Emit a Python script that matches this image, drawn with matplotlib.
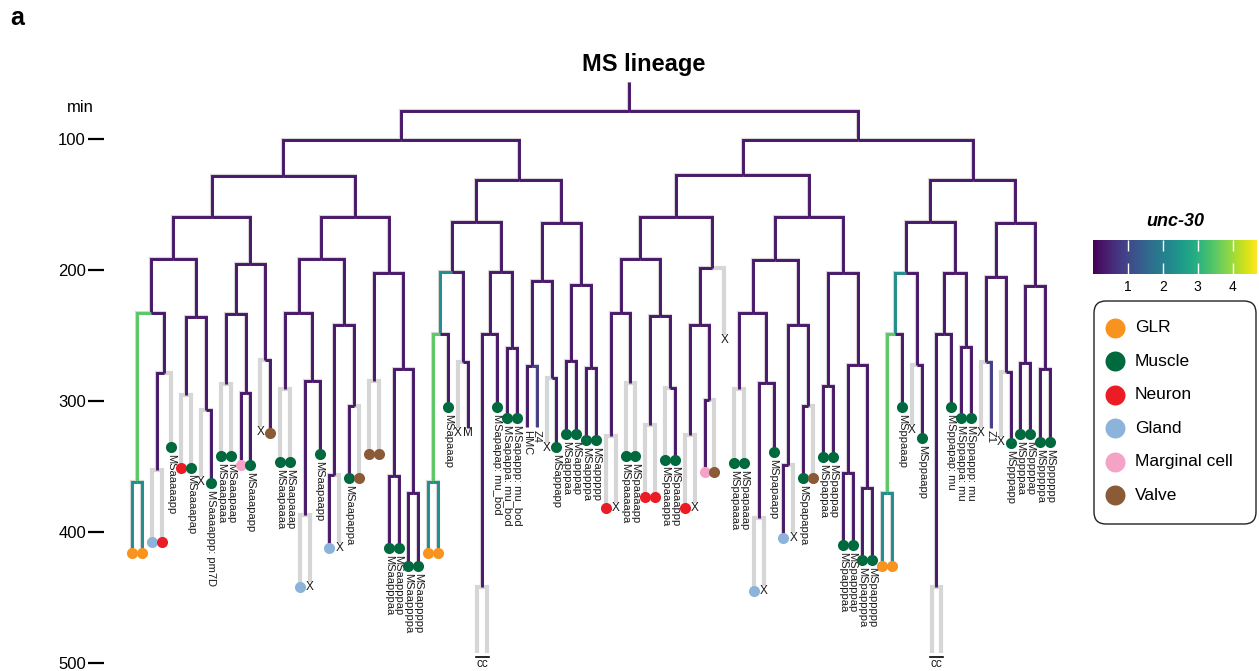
import numpy as np
import matplotlib.pyplot as plt
from matplotlib.colors import Normalize
from matplotlib.cm import ScalarMappable
from matplotlib.patches import FancyBboxPatch

plt.rcParams['font.family'] = ['Liberation Sans', 'DejaVu Sans']

# ---- lineage data: division times (min) and unc-30 level of each dividing cell ----
ms_birth = 56.5

div_cell = [
    'MS', 'MSa', 'MSaa', 'MSaaa', 'MSaaaa', 'MSaaaaa', 'MSaaaaaa', 'MSaaaaap', 'MSaaaaapa',
    'MSaaaap', 'MSaaaapa', 'MSaaaapp', 'MSaaap', 'MSaaapa', 'MSaaapaa', 'MSaaapap', 'MSaaapp',
    'MSaap', 'MSaapa', 'MSaapaa', 'MSaapaaa', 'MSaapaap', 'MSaapaapa', 'MSaapap', 'MSaapapa',
    'MSaapapp', 'MSaapp', 'MSaappa', 'MSaappp', 'MSaapppa', 'MSaapppp',
    'MSap', 'MSapa', 'MSapaa', 'MSapaaa', 'MSapaaaa', 'MSapaap', 'MSapap', 'MSapapa', 'MSapapaa',
    'MSapapp', 'MSapp', 'MSappa', 'MSappaa', 'MSappap', 'MSappp', 'MSapppa', 'MSapppp',
    'MSp', 'MSpa', 'MSpaa', 'MSpaaa', 'MSpaaaa', 'MSpaaaaa', 'MSpaaaap', 'MSpaaap', 'MSpaaapa',
    'MSpaaapp', 'MSpaap', 'MSpaapa', 'MSpaapaa', 'MSpaapap', 'MSpap', 'MSpapa', 'MSpapaa',
    'MSpapaaa', 'MSpapaap', 'MSpapaapa', 'MSpapap', 'MSpapapa', 'MSpapapp', 'MSpapp', 'MSpappa',
    'MSpappp', 'MSpapppa', 'MSpapppp',
    'MSpp', 'MSppa', 'MSppaa', 'MSppaaa', 'MSppaaaa', 'MSppaap', 'MSppap', 'MSppapa', 'MSppapaa',
    'MSppapp', 'MSppp', 'MSpppa', 'MSpppaa', 'MSpppap', 'MSpppp', 'MSppppa', 'MSppppp',
]
div_time = [
    78.6, 100.8, 128.2, 159.5, 191.6, 232.8, 361.8, 278.6, 352.7,
    235.9, 295.4, 306.9, 195.4, 233.6, 287.0, 293.9, 268.7,
    159.5, 191.6, 232.8, 290.8, 284.7, 387.0, 242.0, 356.5,
    303.8, 202.3, 284.7, 275.6, 357.3, 370.2,
    131.3, 163.4, 201.5, 248.9, 361.8, 270.2, 201.5, 248.9, 442.0,
    259.5, 164.1, 208.4, 273.3, 282.4, 211.5, 269.5, 274.8,
    100.8, 127.5, 159.5, 191.6, 232.8, 326.7, 286.3, 235.1, 318.3,
    290.1, 198.5, 242.0, 326.0, 299.2, 159.5, 192.4, 232.8,
    290.8, 286.3, 389.3, 242.0, 348.9, 303.8, 202.3, 288.6,
    272.5, 355.0, 366.4,
    131.3, 163.4, 202.3, 248.9, 370.2, 272.5, 202.3, 248.9, 442.0,
    258.8, 164.1, 205.3, 270.2, 277.9, 212.2, 271.0, 275.6,
]
div_unc30 = [
    0.3, 0.3, 0.3, 0.3, 0.3, 0.3, 3.5, 0.3, 0.3,
    0.3, 0.3, 0.3, 0.3, 0.3, 0.3, 0.3, 0.3,
    0.3, 0.3, 0.3, 0.3, 0.3, 0.3, 0.3, 0.3,
    0.3, 0.3, 0.3, 0.3, 0.3, 0.3,
    0.3, 0.3, 0.3, 2.3, 3.5, 0.3, 0.3, 0.3, 0.3,
    0.3, 0.3, 0.3, 0.3, 0.3, 0.3, 0.3, 0.3,
    0.3, 0.3, 0.3, 0.3, 0.3, 0.3, 0.3, 0.3, 0.3,
    0.3, 0.3, 0.3, 0.3, 0.3, 0.3, 0.3, 0.3,
    0.3, 0.3, 0.3, 0.3, 0.3, 0.3, 0.3, 0.3,
    0.3, 0.3, 0.3,
    0.3, 0.3, 0.3, 2.3, 3.5, 0.3, 0.3, 0.3, 0.3,
    0.3, 0.3, 0.3, 0.3, 0.3, 0.3, 0.3, 0.3,
]

# ---- terminal cells: end time (min), unc-30 level (None = no signal), fate ----
leaf_cell = [
    'MSaaaaaaa', 'MSaaaaaap', 'MSaaaaapaa', 'MSaaaaapap', 'MSaaaaapp', 'MSaaaapaa', 'MSaaaapap',
    'MSaaaappa', 'MSaaaappp', 'MSaaapaaa', 'MSaaapaap', 'MSaaapapa', 'MSaaapapp', 'MSaaappa',
    'MSaaappp', 'MSaapaaaa', 'MSaapaaap', 'MSaapaapaa', 'MSaapaapap', 'MSaapaapp', 'MSaapapaa',
    'MSaapapap', 'MSaapappa', 'MSaapappp', 'MSaappaa', 'MSaappap', 'MSaapppaa', 'MSaapppap',
    'MSaappppa', 'MSaappppp',
    'MSapaaaaa', 'MSapaaaap', 'MSapaaap', 'MSapaapa', 'MSapaapp', 'MSapapaaa', 'MSapapaap',
    'MSapapap', 'MSapappa', 'MSapappp', 'MSappaaa', 'MSappaap', 'MSappapa', 'MSappapp',
    'MSapppaa', 'MSapppap', 'MSappppa', 'MSappppp',
    'MSpaaaaaa', 'MSpaaaaap', 'MSpaaaapa', 'MSpaaaapp', 'MSpaaapaa', 'MSpaaapap', 'MSpaaappa',
    'MSpaaappp', 'MSpaapaaa', 'MSpaapaap', 'MSpaapapa', 'MSpaapapp', 'MSpaapp', 'MSpapaaaa',
    'MSpapaaap', 'MSpapaapaa', 'MSpapaapap', 'MSpapaapp', 'MSpapapaa', 'MSpapapap', 'MSpapappa',
    'MSpapappp', 'MSpappaa', 'MSpappap', 'MSpapppaa', 'MSpapppap', 'MSpappppa', 'MSpappppp',
    'MSppaaaaa', 'MSppaaaap', 'MSppaaap', 'MSppaapa', 'MSppaapp', 'MSppapaaa', 'MSppapaap',
    'MSppapap', 'MSppappa', 'MSppappp', 'MSpppaaa', 'MSpppaap', 'MSpppapa', 'MSpppapp',
    'MSppppaa', 'MSppppap', 'MSpppppa', 'MSpppppp',
]
leaf_end = [
    416.0, 416.0, 407.6, 407.6, 335.1, 351.1, 351.1,
    357.8, 362.6, 342.0, 342.0, 348.9, 348.9, 319.7,
    324.4, 346.6, 346.6, 442.0, 438.0, 340.5, 412.2,
    408.2, 358.8, 358.8, 340.5, 340.5, 412.2, 412.2,
    426.0, 426.0,
    416.0, 416.0, 304.6, 320.4, 320.4, 492.4, 492.4,
    304.6, 313.0, 313.0, 319.9, 319.9, 331.9, 335.1,
    325.2, 325.2, 329.8, 329.8,
    381.7, 377.7, 342.0, 342.0, 373.3, 373.3, 345.0,
    345.0, 381.7, 377.7, 354.2, 354.2, 249.4, 347.3,
    347.3, 445.0, 441.0, 338.9, 404.6, 400.6, 358.8,
    358.8, 342.8, 342.8, 409.9, 409.9, 421.4, 421.4,
    426.0, 426.0, 304.6, 318.1, 328.3, 492.4, 492.4,
    304.6, 313.0, 313.0, 320.4, 320.4, 327.3, 332.1,
    325.2, 325.2, 331.3, 331.3,
]
leaf_unc30 = [
    2.3, 2.3, None, None, None, None, None,
    None, 0.3, None, None, 0.3, 0.3, None,
    0.3, None, None, None, None, 0.3, 0.3,
    None, 0.3, None, None, None, 0.3, 0.3,
    0.3, 0.3,
    2.3, 2.3, 0.3, None, 0.3, None, None,
    0.3, 0.3, 0.3, 0.3, 0.85, None, 0.3,
    0.3, 0.3, 0.3, 0.3,
    None, None, None, None, None, None, None,
    0.3, None, None, 0.3, None, None, None,
    None, None, None, 0.3, 0.3, None, 0.3,
    None, 0.3, 0.3, 0.3, 0.3, 0.3, 0.3,
    2.3, 2.3, 0.3, None, 0.3, None, None,
    0.3, 0.3, 0.3, None, 0.85, None, 0.3,
    0.3, 0.3, 0.3, 0.3,
]
leaf_fate = [
    'GLR', 'GLR', 'Gland', 'Neuron', 'Muscle', 'Neuron', 'Muscle',
    'X', 'Muscle', 'Muscle', 'Muscle', 'Marginal cell', 'Muscle', 'X',
    'Valve', 'Muscle', 'Muscle', 'Gland', 'X', 'Muscle', 'Gland',
    'X', 'Muscle', 'Valve', 'Valve', 'Valve', 'Muscle', 'Muscle',
    'Muscle', 'Muscle',
    'GLR', 'GLR', 'Muscle', 'X', '', '', '',
    'Muscle', 'Muscle', 'Muscle', '', '', 'X', 'Muscle',
    'Muscle', 'Muscle', 'Muscle', 'Muscle',
    'Neuron', 'X', 'Muscle', 'Muscle', 'Neuron', 'Neuron', 'Muscle',
    'Muscle', 'Neuron', 'X', 'Marginal cell', 'Valve', 'X', 'Muscle',
    'Muscle', 'Gland', 'X', 'Muscle', 'Gland', 'X', 'Muscle',
    'Valve', 'Muscle', 'Muscle', 'Muscle', 'Muscle', 'Muscle', 'Muscle',
    'GLR', 'GLR', 'Muscle', 'X', 'Muscle', '', '',
    'Muscle', 'Muscle', 'Muscle', 'X', '', 'X', 'Muscle',
    'Muscle', 'Muscle', 'Muscle', 'Muscle',
]
tip_suffix = {'MSaaaappp': ': pm7D', 'MSapapap': ': mu_bod', 'MSapappa': ': mu_bod',
              'MSapappp': ': mu_bod', 'MSppapap': ': mu', 'MSppappa': ': mu', 'MSppappp': ': mu'}
tip_name = {'MSapaapp': 'M', 'MSappaaa': 'HMC', 'MSappaap': 'Z4', 'MSpppaap': 'Z1'}
cc_parents = ['MSapapaa', 'MSppapaa']

fates = ['GLR', 'Muscle', 'Neuron', 'Gland', 'Marginal cell', 'Valve']
fate_colors = ['#f7931e', '#00693e', '#ec1c24', '#8cb4da', '#f4a3c7', '#8b5b37']

time_ticks = [100, 200, 300, 400, 500]

# ---- build tree ----
end = dict(zip(div_cell, div_time))
end.update(zip(leaf_cell, leaf_end))
level = dict(zip(div_cell, div_unc30))
level.update(zip(leaf_cell, leaf_unc30))

xpos = {c: i for i, c in enumerate(leaf_cell)}


def place(c):
    if c not in xpos:
        xpos[c] = (place(c + 'a') + place(c + 'p')) / 2
    return xpos[c]


place('MS')

norm = Normalize(0, 4.7)
cmap = plt.get_cmap('viridis')
gray = '#d6d6d6'
ink = '#1a1a1a'

W, H = 1259, 671
fig = plt.figure(figsize=(W / 100, H / 100), dpi=100)
ax = fig.add_axes([104 / W, 0, 1 - 104 / W, 1])
step = 9.871
ax.set_xlim((104 - 132) / step, (W - 132) / step)
ax.set_ylim(200 + (H - 270) / 1.31, 200 - 270 / 1.31)

# segments: L-shape from parent's division to the cell's own end
segs = []
for c in end:
    if c == 'MS':
        xs, ts = [xpos[c], xpos[c]], [ms_birth, end[c]]
    else:
        p = c[:-1]
        xs = [xpos[p], xpos[c], xpos[c]]
        ts = [end[p], end[p], end[c]]
    segs.append((xs, ts, level[c]))

for xs, ts, v in segs:
    ax.plot(xs, ts, color=gray, lw=3.0, solid_joinstyle='miter', solid_capstyle='butt', zorder=1)
for xs, ts, v in segs:
    if v is not None:
        ax.plot(xs, ts, color=cmap(norm(v)), lw=2.1, solid_joinstyle='miter',
                solid_capstyle='butt', zorder=2)

# terminal marks
fcol = dict(zip(fates, fate_colors))
for c, t, f in zip(leaf_cell, leaf_end, leaf_fate):
    x = xpos[c]
    if f in fcol:
        ax.scatter(x, t, s=64, color=fcol[f], linewidths=0, zorder=5)
        if f == 'Muscle':
            ax.text(x, t + 5, c + tip_suffix.get(c, ''), rotation=-90, ha='center', va='top',
                    fontsize=8, color=ink)
    elif f == 'X':
        ax.text(x, t + 4, 'X', ha='center', va='center', fontsize=8.5, color=ink)
    if c in tip_name:
        name = tip_name[c]
        if len(name) == 1:
            ax.text(x, t + 4, name, ha='center', va='center', fontsize=8.5, color=ink)
        else:
            ax.text(x, t + 2, name, rotation=-90, ha='center', va='top', fontsize=8, color=ink)

for p in cc_parents:
    xa, xb = xpos[p + 'a'], xpos[p + 'p']
    tb = end[p + 'a'] + 2.8
    ax.plot([xa - 0.2, xb + 0.2], [tb, tb], color='black', lw=1.2)
    ax.text((xa + xb) / 2, tb + 0.8, 'cc', ha='center', va='top', fontsize=8.5, color=ink)

ax.set_xticks([])
ax.set_yticks(time_ticks)
ax.tick_params(axis='y', length=11.5, width=1.6, pad=1.5, labelsize=12)
for s in ax.spines.values():
    s.set_visible(False)
ax.patch.set_alpha(0)

fig.text(80 / W, 1 - 107 / H, 'min', ha='center', va='center', fontsize=12)
fig.text(644 / W, 1 - 65 / H, 'MS lineage', ha='center', va='center', fontsize=17,
         fontweight='bold')
fig.text(10 / W, 1 - 18 / H, 'a', ha='left', va='center', fontsize=18, fontweight='bold')

# colour bar
cax = fig.add_axes([1093 / W, 1 - 274 / H, 164 / W, 34 / H])
cb = fig.colorbar(ScalarMappable(norm=norm, cmap=cmap), cax=cax, orientation='horizontal')
cb.outline.set_visible(False)
cb.set_ticks([1, 2, 3, 4])
cax.xaxis.set_ticks_position('both')
cax.tick_params(direction='in', colors='white', length=8, width=1, labelsize=10, pad=4,
                labelcolor='black')
fig.text(1175 / W, 1 - 221 / H, 'unc-30', ha='center', va='center', fontsize=13,
         fontweight='bold', style='italic')

# fate legend
lax = fig.add_axes([1093 / W, 1 - 525 / H, 164 / W, 225 / H])
lax.set_xlim(0, 164)
lax.set_ylim(225, 0)
lax.axis('off')
lax.add_patch(FancyBboxPatch((1, 1), 162, 223, boxstyle='round,pad=0,rounding_size=12',
                             facecolor='white', edgecolor='#222222', lw=1.0))
for i, (f, col) in enumerate(zip(fates, fate_colors)):
    y = 28 + i * 33.4
    lax.scatter(22, y, s=207, color=col, linewidths=0)
    lax.text(42, y, f, ha='left', va='center', fontsize=12.5)

fig.savefig('out.png', dpi=100)
